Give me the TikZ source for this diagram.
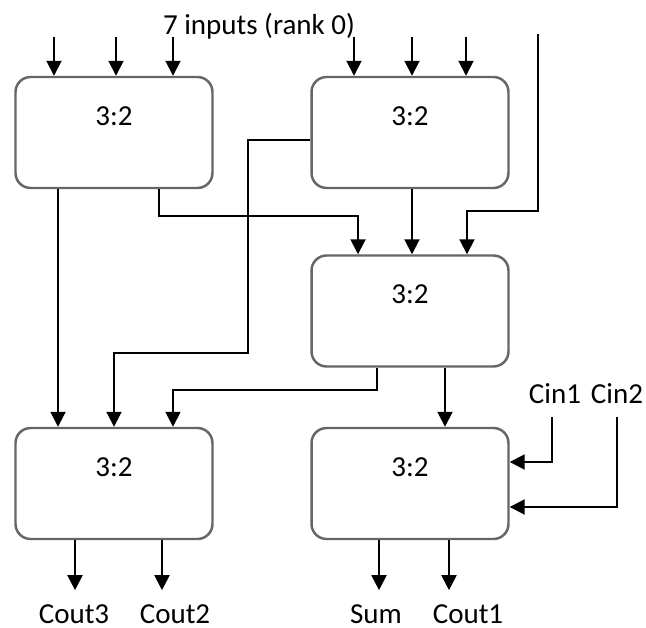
\documentclass[tikz,border=0pt]{standalone}
\usepackage{fontspec}
\setmainfont{Carlito}
\usetikzlibrary{arrows.meta,calc}

\begin{document}
\begin{tikzpicture}[x=0.02cm, y=-0.02cm,
  gate/.style={draw=black!60, fill=white, line width=1.4pt, rounded corners=0.3cm,
    minimum width=3.94cm, minimum height=2.22cm,
    label={[anchor=base, yshift=-0.99cm, font=\fontsize{16.5}{18}\selectfont]north:{3:2}}},
  arr/.style={line width=1.1pt, -{Triangle[width=0.3cm,length=0.3cm]}},
  lbl/.style={inner sep=0pt, outer sep=0.28cm, anchor=base,
    font=\fontsize{16.5}{18}\selectfont}]
  \useasboundingbox (0,0) rectangle (646,628);
  % 3:2 counters
  \node[gate] (tl) at (114,132.5) {};
  \node[gate] (tr) at (410,132.5) {};
  \node[gate] (m)  at (410,311) {};
  \node[gate] (bl) at (114,483.5) {};
  \node[gate] (br) at (410,483.5) {};

  % rank 0 inputs
  \node[lbl] (rank) at (259,35) {7 inputs (rank 0)};
  \foreach \i/\x in {1/54,2/116,3/173,4/354,5/412,6/466}
    \coordinate (in\i) at (\x,37);
  \coordinate (in7) at (538,34);
  \foreach \i/\g in {1/tl,2/tl,3/tl,4/tr,5/tr,6/tr}
    \draw[arr] (in\i) -- (in\i |- \g.north);
  \draw[arr] (in7) -- ++(0,177) -| ([xshift=1.14cm]m.north);

  % between the counters
  \draw[arr] ([xshift=0.04cm]tr.south) -- ([xshift=0.04cm]m.north);
  \draw[arr] ([xshift=0.9cm]tl.south) -- ++(0,27) -| ([xshift=-1.04cm]m.north);
  \draw[arr] ([xshift=-1.12cm]tl.south) -- ([xshift=-1.12cm]bl.north);
  \draw[arr] ([yshift=-0.15cm]tr.west) -- ++(-62,0) -- ++(0,213) -| (bl.north);
  \draw[arr] ([xshift=-0.66cm]m.south) -- ++(0,22) -| ([xshift=1.18cm]bl.north);
  \draw[arr] ([xshift=0.7cm]m.south) -- ([xshift=0.7cm]br.north);

  % carry in
  \node[lbl] (cin1) at (555,403) {Cin1};
  \node[lbl] (cin2) at (617,403) {Cin2};
  \draw[arr] ([xshift=-0.06cm]cin1.south) |- ([yshift=0.43cm]br.east);
  \draw[arr] (cin2.south) |- ([yshift=-0.47cm]br.east);

  % outputs
  \node[lbl] (cout3) at (74,623) {Cout3};
  \node[lbl] (cout2) at (175,623) {Cout2};
  \node[lbl] (sum)   at (376,623) {Sum};
  \node[lbl] (cout1) at (468,623) {Cout1};
  \foreach \p/\g/\o in {-0.78/bl/cout3,0.96/bl/cout2,-0.62/br/sum,0.78/br/cout1}
    \draw[arr] ([xshift=\p cm]\g.south) coordinate (pin) -- (pin |- \o.north);
\end{tikzpicture}
\end{document}
